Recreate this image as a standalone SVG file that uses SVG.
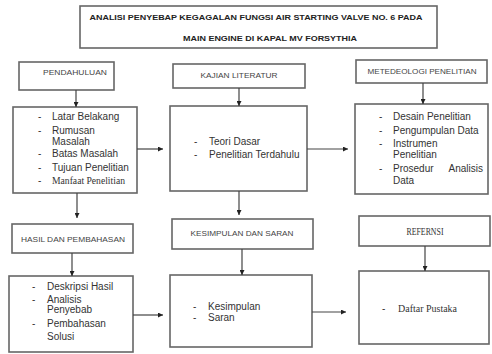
<svg xmlns="http://www.w3.org/2000/svg" width="492" height="354" viewBox="0 0 492 354">
<style>
.box{fill:#fff;stroke:#666;stroke-width:1.6}
.h{font-family:"Liberation Sans",Arial,sans-serif;font-size:8px;fill:#444;text-anchor:middle}
.t{font-family:"Liberation Sans",Arial,sans-serif;font-size:10px;fill:#333}
.s{font-family:"Liberation Serif","Times New Roman",serif;font-size:9.8px;fill:#333}
.ttl{font-family:"Liberation Sans",Arial,sans-serif;font-size:8px;font-weight:bold;fill:#222;text-anchor:middle}
.c{stroke:#444;stroke-width:1.2;fill:none;marker-end:url(#a)}
</style>
<defs>
<marker id="a" viewBox="0 0 8 8" refX="8" refY="4" markerWidth="5" markerHeight="5" orient="auto" markerUnits="userSpaceOnUse">
<path d="M0,0 L8,4 L0,8 Z" fill="#222"/>
</marker>
</defs>
<rect width="492" height="354" fill="#fff"/>
<g id="title">
<rect class="box" x="80" y="6" width="357" height="42"/>
<text class="ttl" x="256" y="20" textLength="333" lengthAdjust="spacingAndGlyphs">ANALISI PENYEBAP KEGAGALAN FUNGSI AIR STARTING VALVE NO. 6 PADA</text>
<text class="ttl" x="270" y="41" textLength="174" lengthAdjust="spacingAndGlyphs">MAIN ENGINE DI KAPAL MV FORSYTHIA</text>
</g>
<g id="pendahuluan">
<rect class="box" x="19" y="62" width="95" height="28"/>
<text class="h" x="75" y="75" textLength="64" lengthAdjust="spacingAndGlyphs">PENDAHULUAN</text>
</g>
<g id="pendahuluan-isi">
<rect class="box" x="13" y="107" width="124" height="86"/>
<g class="t">
<text x="38" y="120">-</text><text x="52" y="120">Latar Belakang</text>
<text x="38" y="134">-</text><text x="52" y="134">Rumusan</text>
<text x="52" y="145">Masalah</text>
<text x="38" y="157">-</text><text x="52" y="157">Batas Masalah</text>
<text x="38" y="171">-</text><text x="52" y="171">Tujuan Penelitian</text>
<text x="38" y="184">-</text>
</g>
<text class="s" x="52" y="184" textLength="73" lengthAdjust="spacingAndGlyphs">Manfaat Penelitian</text>
</g>
<g id="kajian">
<rect class="box" x="173" y="64" width="132" height="24"/>
<text class="h" x="239" y="78" textLength="77" lengthAdjust="spacingAndGlyphs">KAJIAN LITERATUR</text>
</g>
<g id="kajian-isi">
<rect class="box" x="170" y="106" width="137" height="85"/>
<g class="t">
<text x="194" y="145">-</text><text x="209" y="145">Teori Dasar</text>
<text x="194" y="158">-</text><text x="209" y="158">Penelitian Terdahulu</text>
</g>
</g>
<g id="metodologi">
<rect class="box" x="356" y="60" width="131" height="23"/>
<text class="h" x="422" y="74" textLength="109" lengthAdjust="spacingAndGlyphs">METEDEOLOGI PENELITIAN</text>
</g>
<g id="metodologi-isi">
<rect class="box" x="355" y="104" width="133" height="90"/>
<g class="t">
<text x="379" y="120">-</text><text x="393" y="120">Desain Penelitian</text>
<text x="379" y="134">-</text><text x="393" y="134">Pengumpulan Data</text>
<text x="379" y="147">-</text><text x="393" y="147">Instrumen</text>
<text x="393" y="158">Penelitian</text>
<text x="379" y="172">-</text><text x="393" y="172">Prosedur</text><text x="483" y="172" text-anchor="end">Analisis</text>
<text x="393" y="184">Data</text>
</g>
</g>
<g id="hasil">
<rect class="box" x="12" y="224" width="121" height="29"/>
<text class="h" x="73" y="242" textLength="104" lengthAdjust="spacingAndGlyphs">HASIL DAN PEMBAHASAN</text>
</g>
<g id="hasil-isi">
<rect class="box" x="9" y="276" width="124" height="76"/>
<g class="t">
<text x="32" y="290">-</text><text x="47" y="290">Deskripsi Hasil</text>
<text x="32" y="303">-</text><text x="47" y="303">Analisis</text>
<text x="47" y="313">Penyebab</text>
<text x="32" y="327">-</text><text x="47" y="327">Pembahasan</text>
<text x="47" y="340">Solusi</text>
</g>
</g>
<g id="kesimpulan">
<rect class="box" x="172" y="219" width="141" height="30"/>
<text class="h" x="242" y="236" textLength="103" lengthAdjust="spacingAndGlyphs">KESIMPULAN DAN SARAN</text>
</g>
<g id="kesimpulan-isi">
<rect class="box" x="170" y="275" width="142" height="72"/>
<g class="t">
<text x="193" y="310">-</text><text x="208" y="310">Kesimpulan</text>
<text x="193" y="321">-</text><text x="208" y="321">Saran</text>
</g>
</g>
<g id="referensi">
<rect class="box" x="359" y="216" width="131" height="30"/>
<text class="s" x="425" y="235" text-anchor="middle" font-size="8" textLength="37" lengthAdjust="spacingAndGlyphs">REFERNSI</text>
</g>
<g id="referensi-isi">
<rect class="box" x="359" y="271" width="130" height="73"/>
<text class="t" x="382" y="312">-</text>
<text class="s" x="398" y="312" textLength="59" lengthAdjust="spacingAndGlyphs">Daftar Pustaka</text>
</g>
<g id="connectors">
<path class="c" d="M76,90 V107"/>
<path class="c" d="M239,88 V106"/>
<path class="c" d="M423,83 V104"/>
<path class="c" d="M137,149 H163"/>
<path class="c" d="M307,149 H348"/>
<path class="c" d="M77,193 V218"/>
<path class="c" d="M72,253 V276"/>
<path class="c" d="M239,191 V215"/>
<path class="c" d="M242,249 V275"/>
<path class="c" d="M425,246 V271"/>
<path class="c" d="M133,315 H163"/>
<path class="c" d="M312,312 H346"/>
</g>
</svg>
